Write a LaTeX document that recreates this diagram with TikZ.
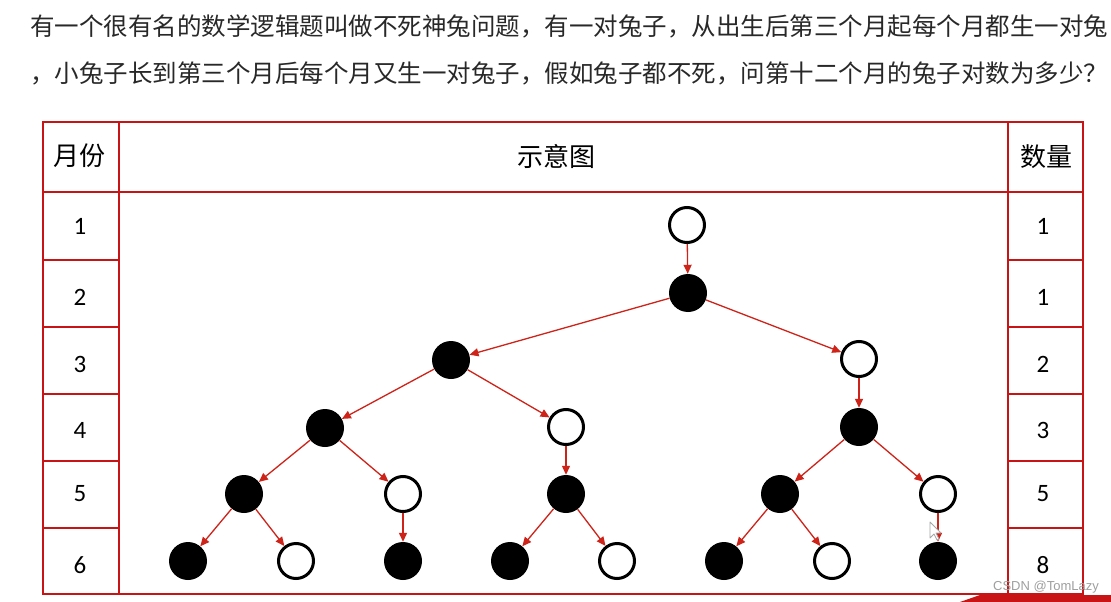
\documentclass[tikz,border=0pt]{standalone}
\usepackage{fontspec}
\newfontfamily\cjk{Noto Sans CJK SC}
\newfontfamily\numf{Carlito}
\newfontfamily\wmf{Liberation Sans}
\usetikzlibrary{arrows.meta}
\definecolor{tred}{RGB}{200,20,20}
\definecolor{ared}{RGB}{205,35,25}
\definecolor{txt}{RGB}{40,40,40}
\begin{document}
\begin{tikzpicture}[x=1pt,y=-1pt,
 wc/.style={circle,draw=black,line width=3pt,fill=white,minimum size=35pt,inner sep=0pt},
 bc/.style={circle,fill=black,minimum size=38pt,inner sep=0pt},
 arr/.style={-{Triangle[length=9pt,width=8pt]},ared,line width=1.3pt},
 gridl/.style={tred,line width=2pt},
 top/.style={font=\cjk\fontsize{24.5}{28}\selectfont,text=txt,anchor=west,inner sep=0pt},
 hdr/.style={font=\cjk\fontsize{26}{30}\selectfont,inner sep=0pt},
 num/.style={font=\numf\fontsize{25}{30}\selectfont,inner sep=0pt}]
\useasboundingbox (0,0) rectangle (1111,602);
\fill[white] (0,0) rectangle (1111,602);
% top text
\node[top] (t1) at (30,26) {有一个很有名的数学逻辑题叫做不死神兔问题，有一对兔子，从出生后第三个月起每个月都生一对兔};
\node[top] (t2) at (30,73) {，小兔子长到第三个月后每个月又生一对兔子，假如兔子都不死，问第十二个月的兔子对数为多少？};
% table
\draw[gridl] (43,122) rectangle (1083,594);
\draw[gridl] (119,122) -- (119,594);
\draw[gridl] (1008,122) -- (1008,594);
\draw[gridl] (43,192) -- (1083,192);
\foreach \yy in {260,327,394,461,528}{
  \draw[gridl] (43,\yy) -- (119,\yy);
  \draw[gridl] (1008,\yy) -- (1083,\yy);
}
\node[hdr] (h1) at (79,156) {月份};
\node[hdr] (h2) at (556,157) {示意图};
\node[hdr] (h3) at (1046,157) {数量};
\foreach \m/\yy/\q in {1/226/1,2/297/1,3/364/2,4/430/3,5/494/5,6/565/8}{
  \node[num] (m\m) at (80,\yy) {\m};
  \node[num] (q\m) at (1043,\yy) {\q};
}
% tree
\node[wc] (a1) at (687,225) {};
\node[bc] (a2) at (688,293) {};
\node[bc] (b1) at (451,360) {};
\node[wc] (b2) at (859,359) {};
\node[bc] (c1) at (325,428) {};
\node[wc] (c2) at (566,427) {};
\node[bc] (c3) at (859,427) {};
\node[bc] (d1) at (244,494) {};
\node[wc] (d2) at (403,494) {};
\node[bc] (d3) at (566,494) {};
\node[bc] (d4) at (780,494) {};
\node[wc] (d5) at (938,494) {};
\node[bc] (e1) at (188,561) {};
\node[wc] (e2) at (296,561) {};
\node[bc] (e3) at (403,561) {};
\node[bc] (e4) at (510,561) {};
\node[wc] (e5) at (617,561) {};
\node[bc] (e6) at (724,561) {};
\node[wc] (e7) at (832,561) {};
\node[bc] (e8) at (938,561) {};
\draw[arr] (a1) -- (a2);
\draw[arr] (a2) -- (b1);
\draw[arr] (a2) -- (b2);
\draw[arr] (b1) -- (c1);
\draw[arr] (b1) -- (c2);
\draw[arr] (b2) -- (c3);
\draw[arr] (c1) -- (d1);
\draw[arr] (c1) -- (d2);
\draw[arr] (c2) -- (d3);
\draw[arr] (c3) -- (d4);
\draw[arr] (c3) -- (d5);
\draw[arr] (d1) -- (e1);
\draw[arr] (d1) -- (e2);
\draw[arr] (d2) -- (e3);
\draw[arr] (d3) -- (e4);
\draw[arr] (d3) -- (e5);
\draw[arr] (d4) -- (e6);
\draw[arr] (d4) -- (e7);
\draw[arr] (d5) -- (e8);
% cursor
\draw[gray!70,fill=white,line width=0.8pt,line join=round] (930,522) -- (930,538) -- (934,534) -- (937,540) -- (939,539) -- (936,533) -- (941,533) -- cycle;
% watermark and banner
\node[font=\wmf\fontsize{13}{15}\selectfont,text=gray!75,inner sep=0pt] (wm) at (1046,587) {CSDN @TomLazy};
\fill[tred] (980,595) -- (1111,595) -- (1111,602) -- (960,602) -- cycle;
\end{tikzpicture}
\end{document}
